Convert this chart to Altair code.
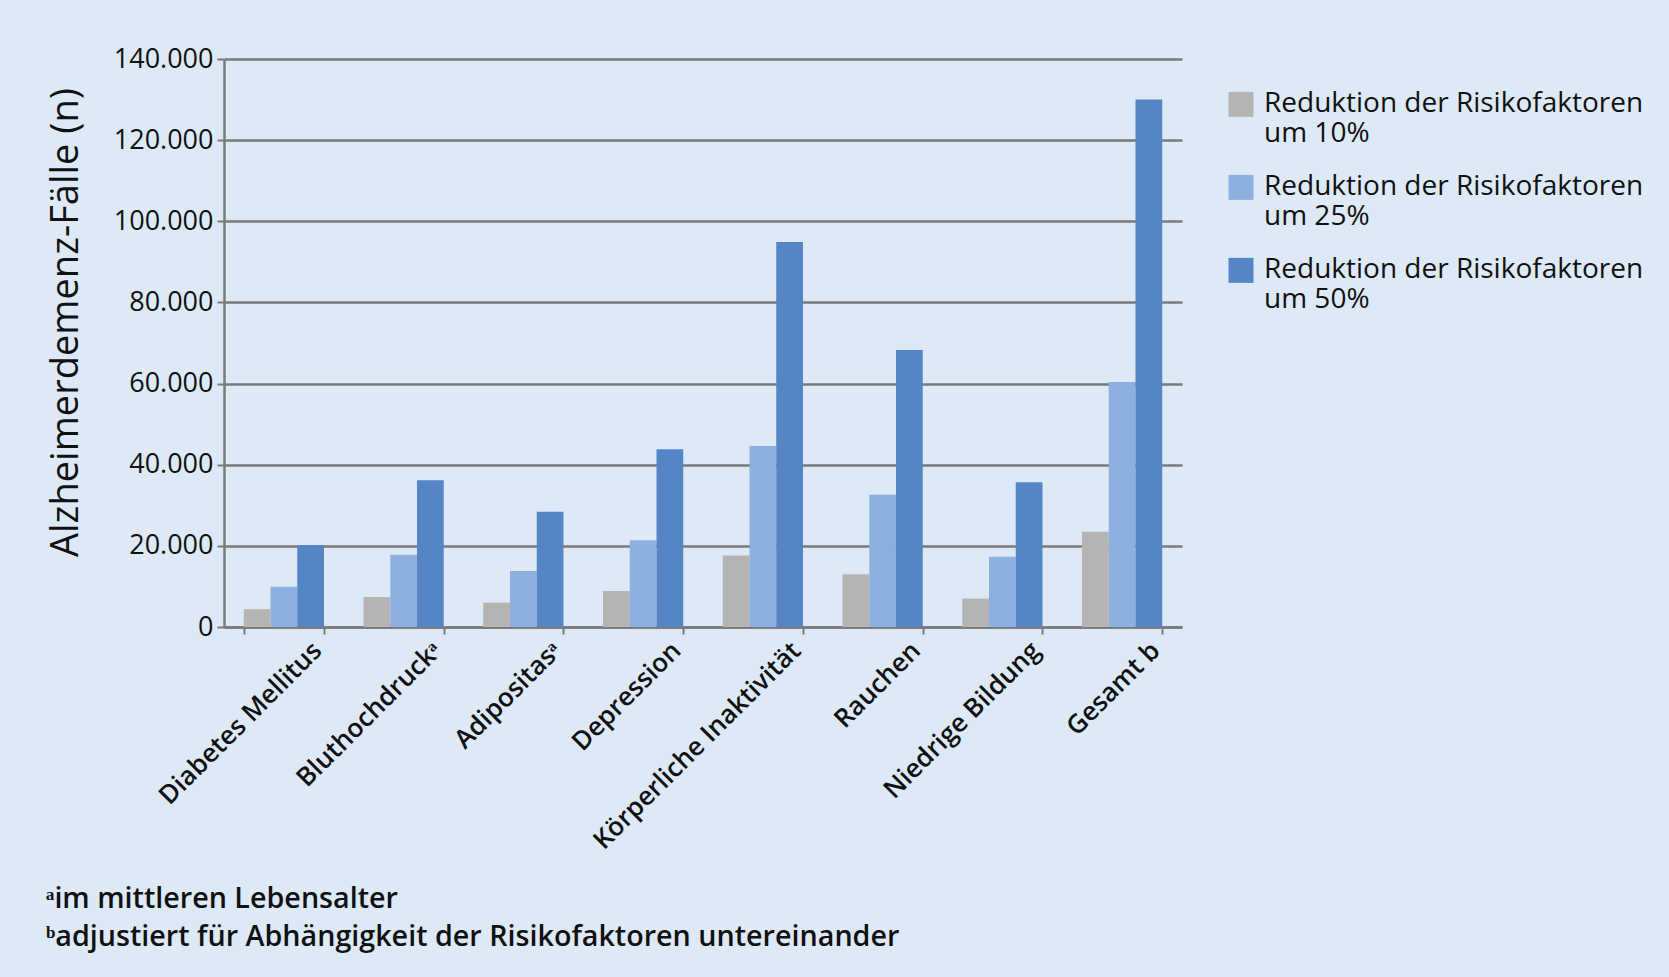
import altair as alt
import pandas as pd

categories = ["Diabetes Mellitus", "Bluthochdruckᵃ", "Adipositasᵃ", "Depression",
              "Körperliche Inaktivität", "Rauchen", "Niedrige Bildung", "Gesamt b"]
series = ["Reduktion der Risikofaktoren|um 10%",
          "Reduktion der Risikofaktoren|um 25%",
          "Reduktion der Risikofaktoren|um 50%"]
red10 = [4400, 7400, 6000, 8900, 17600, 13000, 7000, 23500]
red25 = [9900, 17800, 13800, 21400, 44600, 32600, 17300, 60400]
red50 = [20200, 36200, 28400, 43800, 94900, 68300, 35700, 130000]
colors = ["#b6b4b3", "#8eb0de", "#5585c5"]
y_ticks = [0, 20000, 40000, 60000, 80000, 100000, 120000, 140000]
footnotes = ["ᵃim mittleren Lebensalter",
             "ᵇadjustiert für Abhängigkeit der Risikofaktoren untereinander"]

rows = []
for s, vals in zip(series, [red10, red25, red50]):
    for c, v in zip(categories, vals):
        rows.append({"Kategorie": c, "Serie": s, "Wert": v})
df = pd.DataFrame(rows)

FONT = "Open Sans"
GRID = "#7a7a7a"

chart = alt.Chart(df).mark_bar().encode(
    x=alt.X("Kategorie:N", sort=categories,
            scale=alt.Scale(paddingInner=0.33, paddingOuter=0.165),
            axis=alt.Axis(title=None, labelAngle=-45, labelAlign="right", labelBaseline="top",
                          labelFont=FONT, labelFontSize=26, labelFontWeight=600,
                          labelColor="#111111", labelLimit=0,
                          labelOffset=24, labelPadding=3, tickBand="extent",
                          tickSize=7, tickWidth=2, tickColor=GRID,
                          domainColor=GRID, domainWidth=2.5, grid=False)),
    xOffset=alt.XOffset("Serie:N", sort=series,
                        scale=alt.Scale(paddingInner=0, paddingOuter=0)),
    y=alt.Y("Wert:Q", scale=alt.Scale(domain=[0, 140000], nice=False),
            axis=alt.Axis(values=y_ticks, title="Alzheimerdemenz-Fälle (n)",
                          labelExpr="replace(format(datum.value, ',d'), ',', '.')",
                          labelFont=FONT, labelFontSize=27, labelColor="#111111",
                          labelPadding=4, tickSize=7, tickWidth=2, tickColor=GRID,
                          domainColor=GRID, domainWidth=2.5,
                          grid=True, gridColor=GRID, gridWidth=2.5,
                          titleFont=FONT, titleFontSize=38, titleFontWeight="normal",
                          titleColor="#111111", titleX=-147, titleY=263,
                          titleBaseline="alphabetic", titleAlign="center", titleAngle=270)),
    color=alt.Color("Serie:N", sort=series,
                    scale=alt.Scale(domain=series, range=colors),
                    legend=alt.Legend(title=None, orient="none", legendX=1003, legendY=17,
                                      labelExpr="split(datum.label, '|')",
                                      symbolType="M-1,0.15H1V2.15H-1Z", symbolSize=625,
                                      symbolStrokeWidth=0, symbolOpacity=1,
                                      labelFont=FONT, labelFontSize=28, labelColor="#111111",
                                      labelLimit=0, labelOffset=9, labelBaseline="top",
                                      rowPadding=11, padding=0)),
).properties(
    width=958, height=568,
    autosize=alt.AutoSizeParams(type="none"),
    padding={"left": 224, "top": 59, "right": 487, "bottom": 350},
    background="#dde9f6",
    title=alt.TitleParams(text=footnotes, orient="bottom", anchor="start", frame="group",
                          dx=-178, offset=31, font=FONT, fontSize=28.7, fontWeight=600,
                          color="#111111", lineHeight=38),
).configure_view(stroke=None)

chart.save("out.html", embed_options={"renderer": "svg", "actions": False})
